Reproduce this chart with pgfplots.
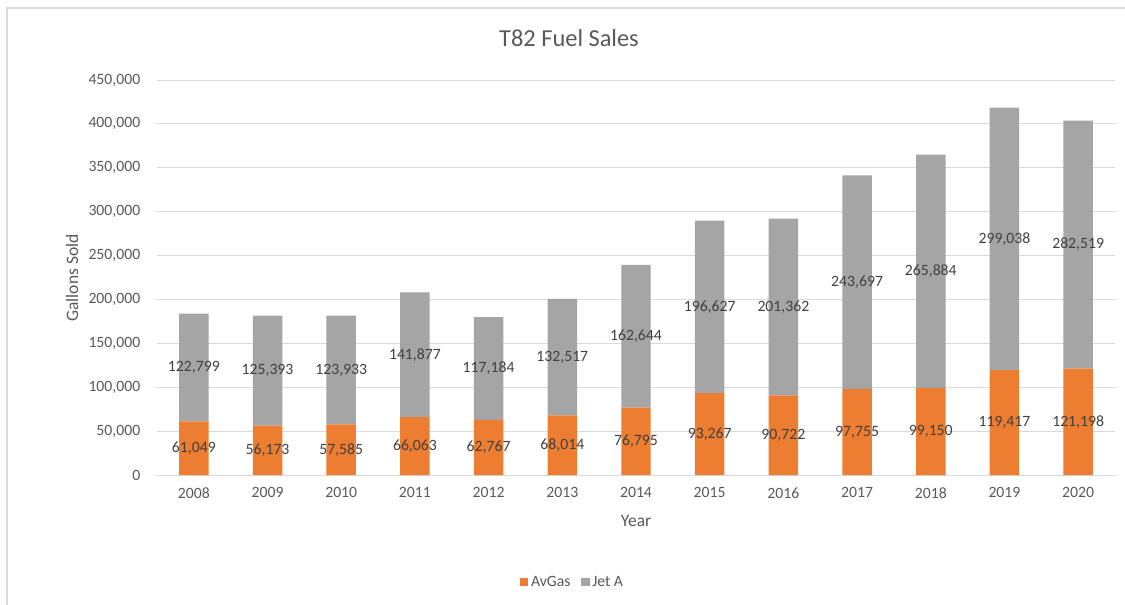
\documentclass[border=0pt]{standalone}
\usepackage{fontspec}
\setmainfont{Carlito}
\usepackage{pgfplots}
\usepackage{pgfplotstable}
\pgfplotsset{compat=1.18}
\definecolor{avgas}{HTML}{ED7D31}
\definecolor{jeta}{HTML}{A5A5A5}
\definecolor{txt}{HTML}{595959}
\definecolor{lbl}{HTML}{404040}
\definecolor{gridc}{HTML}{D9D9D9}
\pgfplotstableread{
i year avgas jeta
0 2008 61049 122799
1 2009 56173 125393
2 2010 57585 123933
3 2011 66063 141877
4 2012 62767 117184
5 2013 68014 132517
6 2014 76795 162644
7 2015 93267 196627
8 2016 90722 201362
9 2017 97755 243697
10 2018 99150 265884
11 2019 119417 299038
12 2020 121198 282519
}\data
\pgfplotsset{
  common/.style={
    scale only axis,
    at={(117.75pt,96.75pt)}, anchor=south west,
    width=718.5pt, height=296.25pt,
    xmin=-0.5, xmax=12.5, ymin=0, ymax=450000,
  },
}
\begin{document}
\begin{tikzpicture}
\path[use as bounding box] (0,0) rectangle (843.75pt,453pt);
\draw[gridc, line width=1pt] (5.25pt,-10pt) -- (5.25pt,447pt) -- (850pt,447pt);
\node[txt, font=\fontsize{18.3}{22}\selectfont] at (426.75pt,424.5pt) {T82 Fuel Sales};
\begin{axis}[common,
  ybar stacked, bar width=0.4,
  axis line style={draw=none},
  ymajorgrids, grid style={gridc, line width=0.75pt},
  major tick length=0pt,
  xtick=data, xticklabels={2008,2009,2010,2011,2012,2013,2014,2015,2016,2017,2018,2019,2020},
  ytick distance=50000, scaled y ticks=false,
  /pgf/number format/.cd, fixed, precision=0, 1000 sep={,}, assume math mode=true, /pgfplots/.cd,
  tick label style={txt, font=\fontsize{11.8}{14}\selectfont},
  yticklabel style={xshift=-9pt},
  xticklabel style={yshift=-6pt},
  xlabel={Year},
  label style={txt, font=\fontsize{13.1}{16}\selectfont},
  xlabel style={at={(0.5,0)}, anchor=center, yshift=-34.5pt},
  legend style={draw=none, at={(0.434,-0.271)}, anchor=center, legend columns=2,
    font=\fontsize{11.8}{14}\selectfont, text=txt,
    /tikz/every even column/.append style={column sep=6pt}},
  legend image code/.code={\fill[#1] (0pt,-3.2pt) rectangle (6.4pt,3.2pt);},
]
\addplot[fill=avgas, draw=none] table[x=i, y=avgas] {\data};
\addplot[fill=jeta, draw=none] table[x=i, y=jeta] {\data};
\legend{AvGas, Jet A}
\end{axis}
\node[txt, rotate=90, font=\fontsize{13.1}{16}\selectfont] at (54pt,244.5pt) {Gallons Sold};
\begin{axis}[common, hide axis,
  /pgf/number format/.cd, fixed, precision=0, 1000 sep={,}, assume math mode=true, /pgfplots/.cd,
  nodes near coords, point meta=explicit,
  every node near coord/.append style={anchor=center, text=lbl, font=\fontsize{11.8}{14}\selectfont},
]
\addplot[draw=none, mark=none] table[x=i, y expr=\thisrow{avgas}/2, meta=avgas] {\data};
\addplot[draw=none, mark=none] table[x=i, y expr=\thisrow{avgas}+\thisrow{jeta}/2, meta=jeta] {\data};
\end{axis}
\end{tikzpicture}
\end{document}
